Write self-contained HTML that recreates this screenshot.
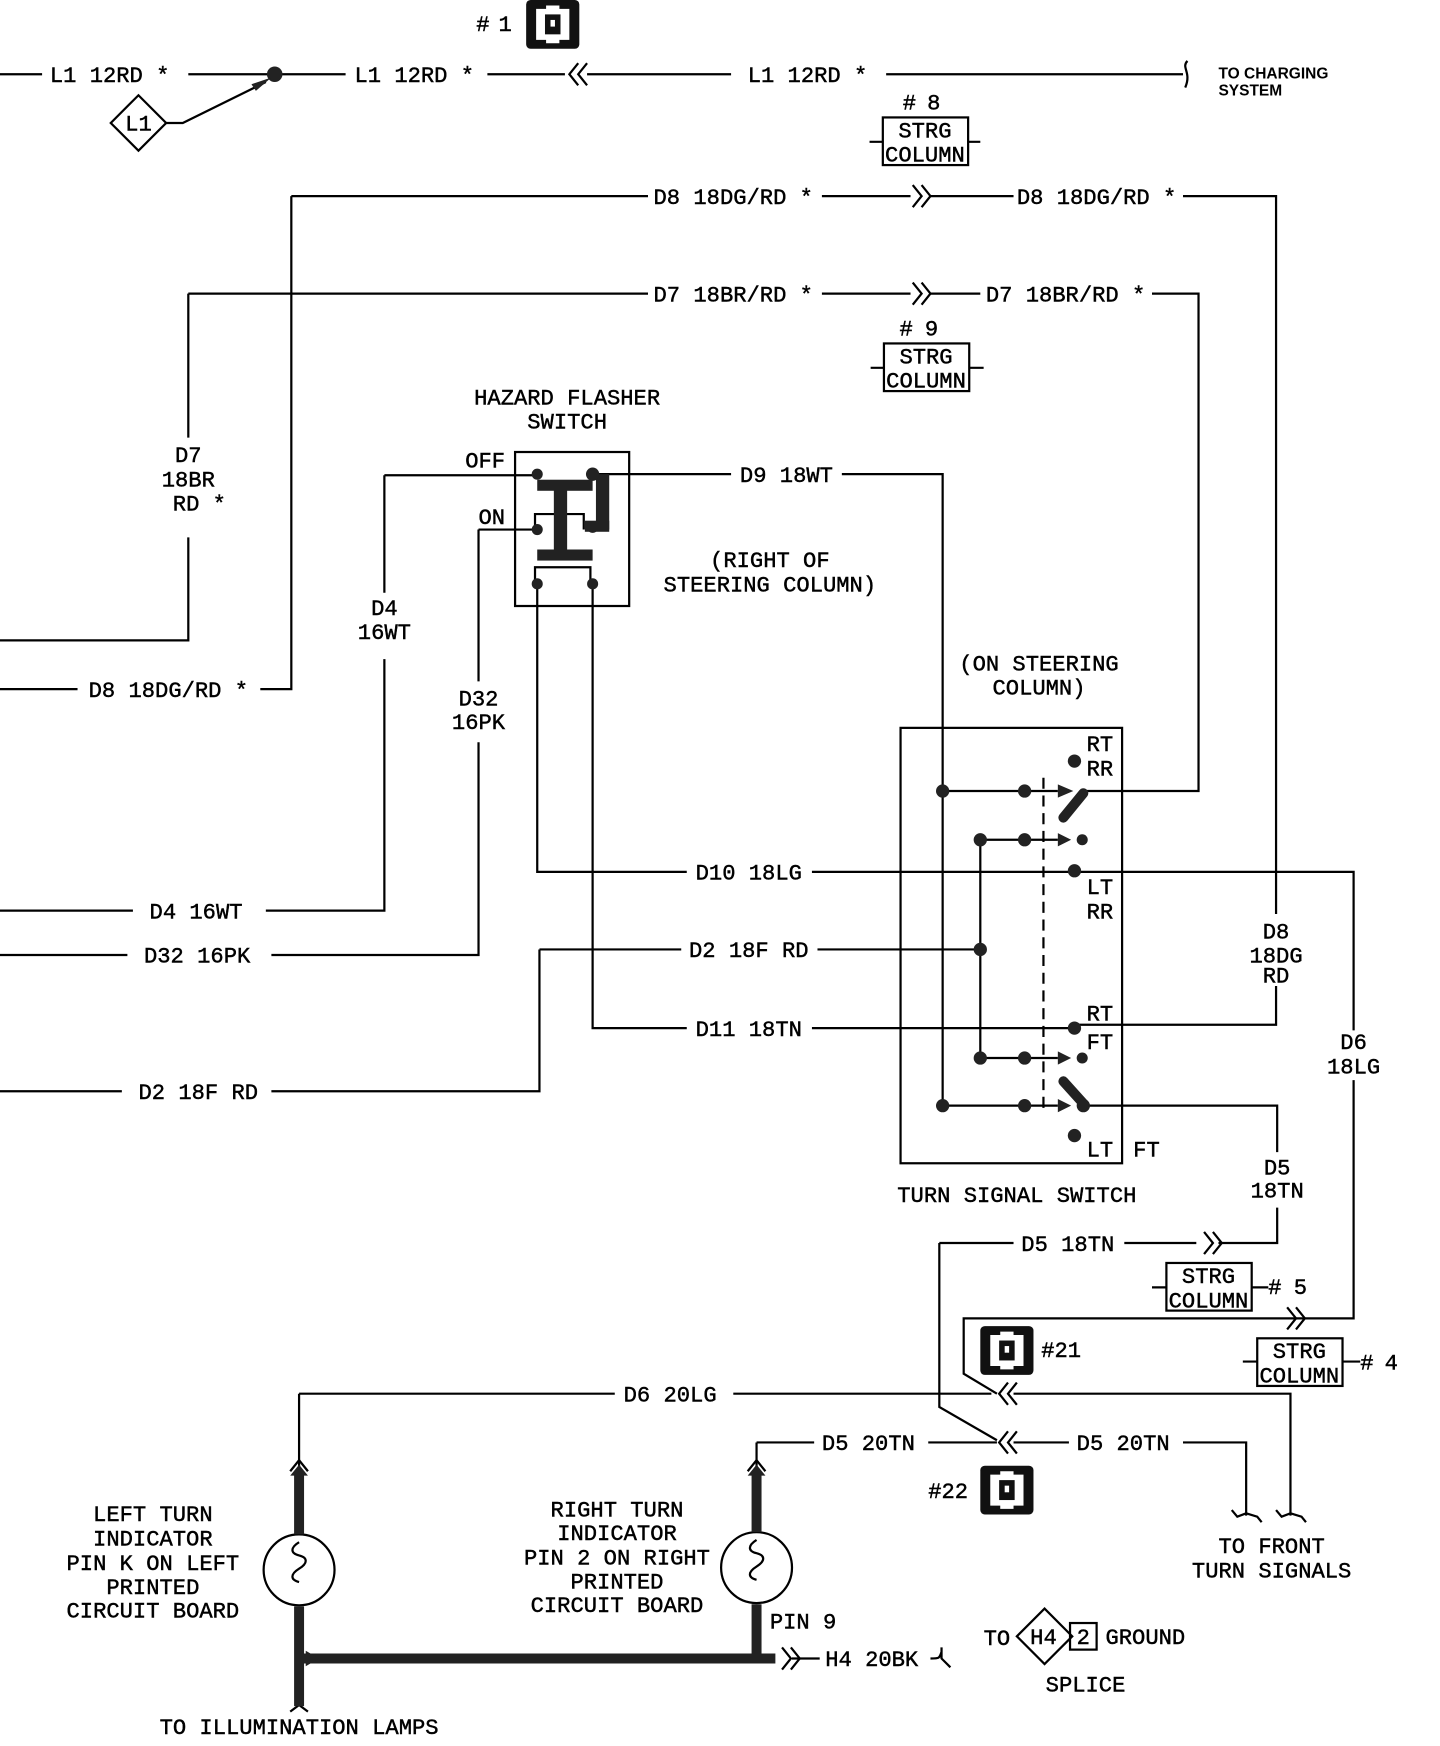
<!DOCTYPE html>
<html><head><meta charset="utf-8"><style>
html,body{margin:0;padding:0;background:#fff}
svg{display:block}
text{font-family:"Liberation Mono",monospace;font-size:20px;fill:#000;stroke:#000;stroke-width:0.4}
.s{font-family:"Liberation Sans",sans-serif;font-weight:bold;font-size:14px;stroke:none}
</style></head><body>
<svg width="1440" height="1746" viewBox="0 0 1300 1576" preserveAspectRatio="none" xmlns="http://www.w3.org/2000/svg">
<defs>
<g id="con"><rect x="0" y="0" width="48" height="44" rx="4" fill="#111"/><path d="M9 8 H18 V5 H30 V8 H39 V36 H30 V39 H18 V36 H9 Z" fill="#fff"/><rect x="17" y="13" width="14" height="18" fill="#111"/><rect x="22" y="18" width="4" height="6" fill="#fff"/></g>
<g id="sc"><rect x="0" y="0" width="77" height="43" fill="#fff" stroke="#000" stroke-width="2"/><text x="38" y="18" text-anchor="middle">STRG</text><text x="38" y="40" text-anchor="middle">COLUMN</text></g>
</defs>
<g stroke="#000" stroke-width="2" fill="none">
<path d="M0 67H38M170 67H312M440 67H510M530 67H660M800 67H1068"/>
<path d="M522 57l-8 10 8 10M530 57l-8 10 8 10"/>
<path d="M1072 55c-6 6 4 10-2 24"/>
<path d="M100 111l25-25 25 25-25 25z"/>
<path d="M150 111H165L240 74"/>
<path d="M785 128H885M786 332H888"/>
<path d="M263 177H585M742 177H822M840 177H915M1068 177H1152V825M1152 890V925H970M263 177V622H235M0 622H70"/>
<path d="M824 167l8 10-8 10M832 167l8 10-8 10"/>
<path d="M170 265H585M742 265H822M840 265H885M1040 265H1082V714H980M170 265V395M170 485V578H0"/>
<path d="M824 255l8 10-8 10M832 255l8 10-8 10"/>
<rect x="465" y="408" width="103" height="139"/>
<path d="M347 429H485M347 429V535M347 595V822H240M0 822H120"/>
<path d="M432 478H485M432 478V615M432 670V862H245M0 862H115"/>
<path d="M535 428H660M760 428H851V998"/>
<path d="M485 527V787H620M733 787H1222V930M1222 975V1190H870V1240L900 1258"/>
<path d="M535 527V928H620M733 928H970"/>
<path d="M487 857H615M738 857H885M487 857V985H245M0 985H110"/>
<path d="M483 478V464H527V478M483 525V512H533V525"/>
<rect x="813" y="657" width="200" height="393"/>
<path d="M851 714H955M885 758H955M885 758V955M885 955H955M851 998H955M980 998H1153V1040M1153 1090V1122H1100M1015 1122H1080"/>
<path d="M942 702V1000" stroke-dasharray="10 6"/>
<path d="M1087 1112l8 10-8 10M1095 1112l8 10-8 10"/>
<path d="M1162 1180l8 10-8 10M1170 1180l8 10-8 10"/>
<path d="M848 1122H915M848 1122V1270L900 1300"/>
<path d="M270 1258H555M662 1258H895M915 1258H1165V1368M270 1258V1325"/>
<path d="M910 1248l-8 10 8 10M918 1248l-8 10 8 10"/>
<path d="M683 1302H735M838 1302H900M915 1302H965M1068 1302H1125V1368M683 1302V1325"/>
<path d="M910 1292l-8 10 8 10M918 1292l-8 10 8 10"/>
<path d="M1112 1363l5 6 8-3 10 3 4 5M1152 1363l5 6 8-3 10 3 4 5"/>
<circle cx="270" cy="1417" r="32"/>
<circle cx="683" cy="1415" r="32"/>
<path d="M262 1328l8-10 8 10M675 1328l8-10 8 10"/>
<path d="M270 1392c-8 5-8 10 0 12c8 2 8 7 0 12c-8 5-8 10 0 12"/>
<path d="M683 1390c-8 5-8 10 0 12c8 2 8 7 0 12c-8 5-8 10 0 12"/>
<path d="M715 1497H740M840 1497c8 0 8 0 10-6M850 1487v10l8 8"/>
<path d="M706 1487l8 10-8 10M714 1487l8 10-8 10"/>
<path d="M262 1545l8-6 8 6"/>
<path d="M918 1477l25-25 25 25-25 25z"/>
<rect x="966" y="1465" width="24" height="24"/>
</g>
<g stroke="#222" stroke-width="9" fill="none">
<path d="M270 1330V1385M270 1450V1540M683 1330V1383M683 1448V1497M270 1497H700"/>
</g>
<g fill="#222">
<path d="M262 1332l8-10 8 10zM675 1332l8-10 8 10zM276 1490l12 7-12 7z"/>
</g>
<g fill="#222">
<rect x="485" y="433" width="50" height="10"/>
<rect x="500" y="440" width="12" height="60"/>
<rect x="485" y="496" width="50" height="10"/>
<rect x="538" y="428" width="12" height="50"/>
<rect x="528" y="470" width="22" height="10"/>
<circle cx="485" cy="428" r="5"/><circle cx="535" cy="428" r="6"/>
<circle cx="485" cy="478" r="5"/><circle cx="535" cy="476" r="5"/>
<circle cx="485" cy="527" r="5"/><circle cx="535" cy="527" r="5"/>
<circle cx="248" cy="67" r="7"/>
<path d="M245 70l-18 6 4 6z"/>
<circle cx="851" cy="714" r="6"/><circle cx="925" cy="714" r="6"/><circle cx="970" cy="687" r="6"/>
<circle cx="885" cy="758" r="6"/><circle cx="925" cy="758" r="6"/><circle cx="977" cy="758" r="5"/>
<circle cx="970" cy="786" r="6"/><circle cx="885" cy="857" r="6"/><circle cx="970" cy="928" r="6"/>
<circle cx="885" cy="955" r="6"/><circle cx="925" cy="955" r="6"/><circle cx="977" cy="955" r="5"/>
<circle cx="851" cy="998" r="6"/><circle cx="925" cy="998" r="6"/><circle cx="978" cy="998" r="6"/><circle cx="970" cy="1025" r="6"/>
<path d="M955 708l14 6-14 6zM955 752l12 6-12 6zM955 949l12 6-12 6zM955 992l12 6-12 6z"/>
</g>
<g stroke="#222" stroke-width="9" stroke-linecap="round"><path d="M978 716L960 738M960 976L978 996"/></g>
<use href="#con" x="475" y="0"/>
<use href="#con" x="885" y="1197"/>
<use href="#con" x="885" y="1323"/>
<use href="#sc" x="797" y="106"/>
<use href="#sc" x="798" y="310"/>
<use href="#sc" x="1053" y="1140"/>
<use href="#sc" x="1135" y="1208"/>
<path d="M1040 1162H1053M1130 1162H1145M1122 1229H1135M1212 1229H1228" stroke="#000" stroke-width="2"/>
<g>
<text x="45" y="74">L1 12RD *</text>
<text x="320" y="74">L1 12RD *</text>
<text x="675" y="74">L1 12RD *</text>
<text x="430" y="28">#</text><text x="450" y="28">1</text>
<text x="113" y="118">L1</text>
<text class="s" x="1100" y="71">TO CHARGING</text>
<text class="s" x="1100" y="86">SYSTEM</text>
<text x="815" y="99">#</text><text x="837" y="99">8</text>
<text x="812" y="303">#</text><text x="835" y="303">9</text>
<text x="590" y="184">D8 18DG/RD *</text>
<text x="918" y="184">D8 18DG/RD *</text>
<text x="590" y="272">D7 18BR/RD *</text>
<text x="890" y="272">D7 18BR/RD *</text>
<text x="170" y="417" text-anchor="middle">D7</text>
<text x="170" y="439" text-anchor="middle">18BR</text>
<text x="180" y="461" text-anchor="middle">RD *</text>
<text x="80" y="629">D8 18DG/RD *</text>
<text x="512" y="365" text-anchor="middle">HAZARD FLASHER</text>
<text x="512" y="387" text-anchor="middle">SWITCH</text>
<text x="420" y="422">OFF</text>
<text x="432" y="473">ON</text>
<text x="668" y="435">D9 18WT</text>
<text x="695" y="512" text-anchor="middle">(RIGHT OF</text>
<text x="695" y="534" text-anchor="middle">STEERING COLUMN)</text>
<text x="347" y="555" text-anchor="middle">D4</text>
<text x="347" y="577" text-anchor="middle">16WT</text>
<text x="432" y="637" text-anchor="middle">D32</text>
<text x="432" y="658" text-anchor="middle">16PK</text>
<text x="938" y="605" text-anchor="middle">(ON STEERING</text>
<text x="938" y="627" text-anchor="middle">COLUMN)</text>
<text x="135" y="829">D4 16WT</text>
<text x="130" y="869">D32 16PK</text>
<text x="125" y="992">D2 18F RD</text>
<text x="628" y="794">D10 18LG</text>
<text x="622" y="864">D2 18F RD</text>
<text x="628" y="935">D11 18TN</text>
<text x="981" y="678">RT</text><text x="981" y="700">RR</text>
<text x="981" y="807">LT</text><text x="981" y="829">RR</text>
<text x="981" y="921">RT</text><text x="981" y="947">FT</text>
<text x="981" y="1044">LT</text><text x="1023" y="1044">FT</text>
<text x="1152" y="847" text-anchor="middle">D8</text>
<text x="1152" y="869" text-anchor="middle">18DG</text>
<text x="1152" y="887" text-anchor="middle">RD</text>
<text x="1222" y="947" text-anchor="middle">D6</text>
<text x="1222" y="969" text-anchor="middle">18LG</text>
<text x="1153" y="1060" text-anchor="middle">D5</text>
<text x="1153" y="1081" text-anchor="middle">18TN</text>
<text x="918" y="1085" text-anchor="middle">TURN SIGNAL SWITCH</text>
<text x="922" y="1129">D5 18TN</text>
<text x="1145" y="1168">#</text><text x="1168" y="1168">5</text>
<text x="1228" y="1236">#</text><text x="1250" y="1236">4</text>
<text x="940" y="1225">#21</text>
<text x="838" y="1352">#22</text>
<text x="563" y="1265">D6 20LG</text>
<text x="742" y="1309">D5 20TN</text>
<text x="972" y="1309">D5 20TN</text>
<text x="1148" y="1402" text-anchor="middle">TO FRONT</text>
<text x="1148" y="1424" text-anchor="middle">TURN SIGNALS</text>
<text x="138" y="1373" text-anchor="middle">LEFT TURN</text>
<text x="138" y="1395" text-anchor="middle">INDICATOR</text>
<text x="138" y="1417" text-anchor="middle">PIN K ON LEFT</text>
<text x="138" y="1439" text-anchor="middle">PRINTED</text>
<text x="138" y="1460" text-anchor="middle">CIRCUIT BOARD</text>
<text x="557" y="1369" text-anchor="middle">RIGHT TURN</text>
<text x="557" y="1390" text-anchor="middle">INDICATOR</text>
<text x="557" y="1412" text-anchor="middle">PIN 2 ON RIGHT</text>
<text x="557" y="1434" text-anchor="middle">PRINTED</text>
<text x="557" y="1455" text-anchor="middle">CIRCUIT BOARD</text>
<text x="695" y="1470">PIN 9</text>
<text x="745" y="1504">H4 20BK</text>
<text x="888" y="1485">TO</text>
<text x="930" y="1484">H4</text>
<text x="972" y="1484">2</text>
<text x="998" y="1484">GROUND</text>
<text x="980" y="1527" text-anchor="middle">SPLICE</text>
<text x="270" y="1565" text-anchor="middle">TO ILLUMINATION LAMPS</text>
</g>
</svg>
</body></html>
